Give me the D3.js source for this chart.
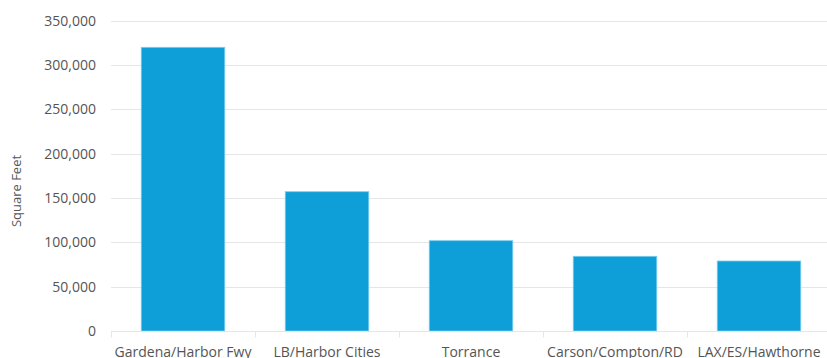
<!DOCTYPE html>
<html>
<head>
<meta charset="utf-8">
<script src="https://cdn.jsdelivr.net/npm/d3@7"></script>
<style>
  body { margin: 0; background: #fff; }
  svg { display: block; font-family: "Open Sans", sans-serif; }
</style>
</head>
<body>
<svg id="chart"></svg>
<script>
let categories = ["Gardena/Harbor Fwy", "LB/Harbor Cities", "Torrance", "Carson/Compton/RD", "LAX/ES/Hawthorne"];
let values = [319800, 157000, 101800, 84200, 78900];
let yTicks = [0, 50000, 100000, 150000, 200000, 250000, 300000, 350000];

let width = 827;
let height = 358;
let margin = { top: 20.5, right: -4, bottom: 27, left: 111 };

let svg = d3.select("#chart").attr("width", width).attr("height", height);

let x = d3
  .scaleBand()
  .domain(categories)
  .range([margin.left, width - margin.right])
  .paddingInner(0.42)
  .paddingOuter(0.21);

let y = d3
  .scaleLinear()
  .domain([0, 350000])
  .range([height - margin.bottom, margin.top]);

// gridlines
svg
  .append("g")
  .selectAll("line")
  .data(yTicks.filter((d) => d > 0))
  .join("line")
  .attr("x1", margin.left)
  .attr("x2", width)
  .attr("y1", (d) => Math.round(y(d)) + 0.5)
  .attr("y2", (d) => Math.round(y(d)) + 0.5)
  .style("stroke", "#e6e6e6")
  .style("stroke-width", 1);

// y labels
svg
  .append("g")
  .selectAll("text")
  .data(yTicks)
  .join("text")
  .attr("x", 96)
  .attr("y", (d) => y(d) + 5)
  .attr("text-anchor", "end")
  .style("font-size", "14px")
  .style("fill", "#555")
  .text((d) => d3.format(",")(d));

// bars
svg
  .append("g")
  .selectAll("rect")
  .data(values)
  .join("rect")
  .attr("x", (d, i) => x(categories[i]))
  .attr("y", (d) => y(d))
  .attr("width", x.bandwidth())
  .attr("height", (d) => y(0) - y(d))
  .style("fill", "#0e9ed8")
  .style("stroke", "#7ccdee")
  .style("stroke-width", 0.8);

// x axis
let xAxis = svg
  .append("g")
  .attr("transform", `translate(0,${Math.round(y(0)) + 0.5})`)
  .call(
    d3
      .axisBottom(x)
      .tickSize(0)
      .tickPadding(0)
  );
xAxis.select(".domain").remove();
xAxis.selectAll(".tick text").remove();

let step = x.step();
let tickXs = d3.range(categories.length + 1).map((i) => margin.left + i * step);

xAxis
  .append("line")
  .attr("x1", margin.left)
  .attr("x2", width)
  .style("stroke", "#e6e6e6");

xAxis
  .selectAll(".sep")
  .data(tickXs)
  .join("line")
  .attr("class", "sep")
  .attr("x1", (d) => Math.round(d) + 0.5)
  .attr("x2", (d) => Math.round(d) + 0.5)
  .attr("y1", 0)
  .attr("y2", 6)
  .style("stroke", "#e6e6e6");

svg
  .append("g")
  .selectAll("text")
  .data(categories)
  .join("text")
  .attr("x", (d) => x(d) + x.bandwidth() / 2)
  .attr("y", 357)
  .attr("text-anchor", "middle")
  .style("font-size", "14px")
  .style("fill", "#555")
  .text((d) => d);

// y title
svg
  .append("text")
  .attr("transform", "translate(21,191) rotate(-90)")
  .attr("text-anchor", "middle")
  .style("font-size", "13px")
  .style("fill", "#555")
  .text("Square Feet");
</script>
</body>
</html>
